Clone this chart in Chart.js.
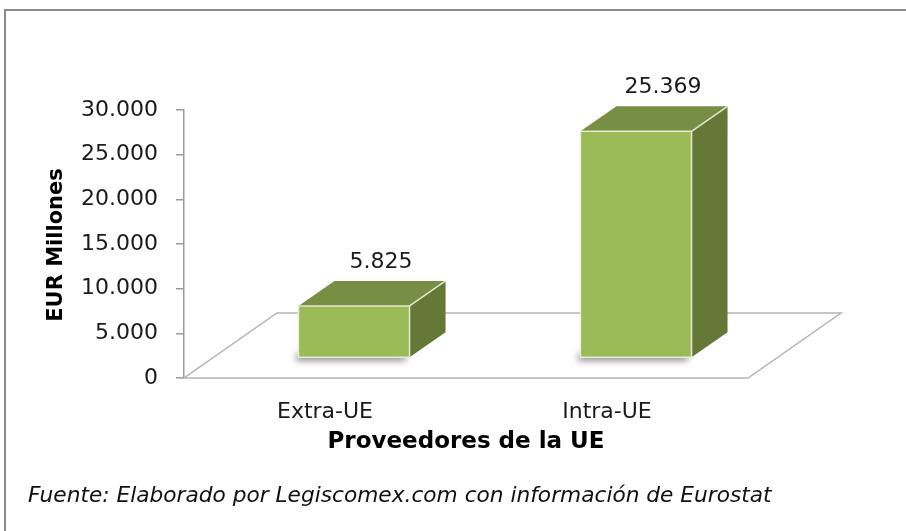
<!DOCTYPE html>
<html>
<head>
<meta charset="utf-8">
<script src="https://cdn.jsdelivr.net/npm/chart.js@4.4.1/dist/chart.umd.min.js"></script>
<style>
  body { margin: 0; background: #fff; }
  canvas { display: block; }
</style>
</head>
<body>
<canvas id="grafico" width="906" height="531"></canvas>
<script>
// datos
var categorias = ["Extra-UE", "Intra-UE"];
var valores = [5825, 25369];
var ticksY = [0, 5000, 10000, 15000, 20000, 25000, 30000];
var tituloY = "EUR Millones";
var tituloX = "Proveedores de la UE";
var fuente = "Fuente: Elaborado por Legiscomex.com con información de Eurostat";

var FONT = "'DejaVu Sans', Verdana, sans-serif";

function miles(v) { // 25369 -> 25.369
  return String(v).replace(/\B(?=(\d{3})+(?!\d))/g, ".");
}

// desplazamientos de la perspectiva
var suelo = { dx: 93, dy: -65 };
var frente = { dx: 29, dy: -20 };  // posicion de la cara frontal de la barra
var fondo = { dx: 36, dy: -25 };   // profundidad de la barra

var plugin3d = {
  id: "barras3d",
  beforeDraw: function(chart) {
    var ctx = chart.ctx;
    ctx.save();
    ctx.fillStyle = "#fff";
    ctx.fillRect(0, 0, chart.width, chart.height);
    ctx.strokeStyle = "#8a8a8a";
    ctx.lineWidth = 2;
    ctx.strokeRect(5, 10, chart.width + 10, chart.height + 10);
    ctx.restore();
  },
  beforeDatasetsDraw: function(chart) { // el suelo
    var ctx = chart.ctx, a = chart.chartArea;
    var y0 = chart.scales.y.getPixelForValue(0);
    ctx.save();
    ctx.beginPath();
    ctx.moveTo(a.left, y0);
    ctx.lineTo(a.right, y0);
    ctx.lineTo(a.right + suelo.dx, y0 + suelo.dy);
    ctx.lineTo(a.left + suelo.dx, y0 + suelo.dy);
    ctx.closePath();
    ctx.fillStyle = "#fff";
    ctx.fill();
    ctx.strokeStyle = "#b4b4b4";
    ctx.lineWidth = 1.5;
    ctx.stroke();
    ctx.restore();
  },
  afterDatasetsDraw: function(chart) {
    var ctx = chart.ctx;
    var meta = chart.getDatasetMeta(0);
    meta.data.forEach(function(bar, i) {
      var L = bar.x - bar.width / 2 + frente.dx;
      var R = bar.x + bar.width / 2 + frente.dx;
      var T = bar.y + frente.dy;
      var B = bar.base + frente.dy;
      ctx.save();
      // sombra solo en la base
      ctx.shadowColor = "rgba(0,0,0,0.55)";
      ctx.shadowBlur = 7;
      ctx.shadowOffsetX = -4;
      ctx.shadowOffsetY = 3;
      ctx.fillStyle = "#9bbb59";
      ctx.fillRect(L + 2, B - 6, R - L - 2, 6);
      ctx.restore();

      ctx.save();
      ctx.strokeStyle = "rgba(235,240,220,0.9)";
      ctx.lineWidth = 1.5;
      ctx.lineJoin = "round";
      // cara lateral
      ctx.beginPath();
      ctx.moveTo(R, T);
      ctx.lineTo(R + fondo.dx, T + fondo.dy);
      ctx.lineTo(R + fondo.dx, B + fondo.dy);
      ctx.lineTo(R, B);
      ctx.closePath();
      ctx.fillStyle = "#647838";
      ctx.fill();
      // cara superior
      ctx.beginPath();
      ctx.moveTo(L, T);
      ctx.lineTo(R, T);
      ctx.lineTo(R + fondo.dx, T + fondo.dy);
      ctx.lineTo(L + fondo.dx, T + fondo.dy);
      ctx.closePath();
      ctx.fillStyle = "#778f44";
      ctx.fill();
      // frente
      ctx.fillStyle = "#9bbb59";
      ctx.fillRect(L, T, R - L, B - T);
      // aristas claras
      ctx.beginPath();
      ctx.moveTo(L, B);
      ctx.lineTo(L, T);
      ctx.lineTo(R, T);
      ctx.lineTo(R, B);
      ctx.closePath();
      ctx.moveTo(R, T);
      ctx.lineTo(R + fondo.dx, T + fondo.dy);
      ctx.stroke();
      // etiqueta de valor
      ctx.fillStyle = "#1a1a1a";
      ctx.font = "22px " + FONT;
      ctx.textAlign = "center";
      ctx.textBaseline = "middle";
      ctx.fillText(miles(valores[i]), (L + R) / 2 + 27, T + fondo.dy - 19);
      ctx.restore();
    });
  },
  afterDraw: function(chart) {
    var ctx = chart.ctx;
    ctx.save();
    ctx.fillStyle = "#000";
    ctx.textAlign = "center";
    ctx.textBaseline = "middle";
    ctx.font = "bold 23px " + FONT;
    ctx.fillText(tituloX, 466, 442);
    ctx.translate(57, 245);
    ctx.rotate(-Math.PI / 2);
    ctx.font = "bold 21px " + FONT;
    ctx.fillText(tituloY, 0, 0);
    ctx.restore();

    ctx.save();
    ctx.fillStyle = "#111";
    ctx.font = "italic 21.7px " + FONT;
    ctx.textAlign = "left";
    ctx.textBaseline = "middle";
    ctx.fillText(fuente, 28, 496);
    ctx.restore();
  }
};

var ctx = document.getElementById("grafico").getContext("2d");
var chart = new Chart(ctx, {
  type: "bar",
  data: {
    labels: categorias,
    datasets: [{
      data: valores,
      backgroundColor: "rgba(0,0,0,0)",
      borderWidth: 0,
      categoryPercentage: 1,
      barPercentage: 0.394
    }]
  },
  options: {
    responsive: false,
    animation: false,
    layout: { padding: { left: 0, top: 110, right: 158, bottom: 0 } },
    plugins: {
      legend: { display: false },
      tooltip: { enabled: false }
    },
    scales: {
      y: {
        min: ticksY[0],
        max: ticksY[ticksY.length - 1],
        afterBuildTicks: function(scale) {
          scale.ticks = ticksY.map(function(v) { return { value: v }; });
        },
        afterFit: function(scale) { scale.width = 184; },
        ticks: {
          color: "#1a1a1a",
          font: { family: FONT, size: 22 },
          padding: 18,
          callback: function(v) { return miles(v); }
        },
        grid: {
          drawOnChartArea: false,
          tickLength: 8,
          color: "#9a9a9a",
          lineWidth: 1.5
        },
        border: { display: true, color: "#9a9a9a", width: 1.5 }
      },
      x: {
        afterFit: function(scale) { scale.height = 531 - 378; },
        ticks: {
          color: "#1a1a1a",
          font: { family: FONT, size: 22 },
          padding: 13
        },
        grid: { display: false },
        border: { display: false }
      }
    }
  },
  plugins: [plugin3d]
});
</script>
</body>
</html>
